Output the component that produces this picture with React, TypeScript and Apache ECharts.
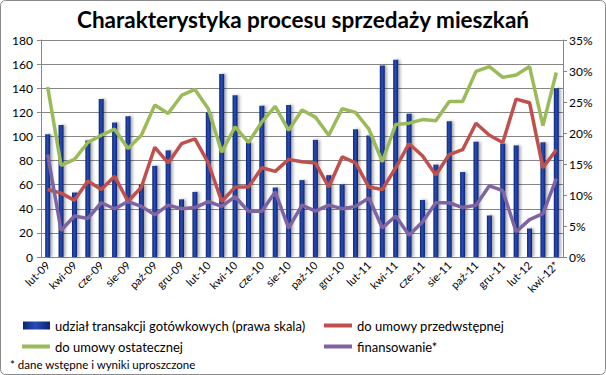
import React, { useEffect, useRef } from "react";
import * as echarts from "echarts";

const categories = [
  "lut-09","mar-09","kwi-09","maj-09","cze-09","lip-09","sie-09","wrz-09","paź-09","lis-09","gru-09",
  "sty-10","lut-10","mar-10","kwi-10","maj-10","cze-10","lip-10","sie-10","wrz-10","paź-10","lis-10","gru-10",
  "sty-11","lut-11","mar-11","kwi-11","maj-11","cze-11","lip-11","sie-11","wrz-11","paź-11","lis-11","gru-11",
  "sty-12","lut-12","mar-12","kwi-12*",
];

// udział transakcji gotówkowych (%), right axis
const cashShare = [
  19.8, 21.3, 10.4, 18.8, 25.5, 21.7, 22.7, 11.7, 14.7, 17.2, 9.3,
  10.5, 23.3, 29.5, 26.1, 18.5, 24.4, 11.2, 24.5, 12.4, 18.9, 13.2, 11.7,
  20.6, 19.6, 30.9, 31.8, 23.1, 9.2, 14.9, 21.9, 13.7, 18.6, 6.7, 18.3,
  18.0, 4.6, 18.5, 27.2,
];

// do umowy przedwstępnej
const preliminary = [
  56, 53, 47, 63, 56, 67, 46, 58, 91, 78, 94,
  98, 78, 46, 58, 58, 74, 71, 81, 79, 78, 58, 83,
  78, 58, 56, 74, 94, 84, 68, 85, 89, 111, 101, 95,
  131, 128, 74, 89,
];

// do umowy ostatecznej
const final = [
  141, 76, 81, 95, 101, 106, 90, 101, 126, 119, 134,
  139, 123, 87, 108, 95, 112, 125, 105, 122, 116, 101, 123,
  120, 106, 79, 110, 111, 114, 113, 129, 129, 154, 158, 149,
  151, 158, 109, 153,
];

// finansowanie*
const financing = [
  85, 22, 34, 32, 45, 40, 46, 42, 35, 43, 40,
  41, 46, 42, 50, 38, 38, 54, 24, 43, 38, 43, 40,
  42, 49, 24, 34, 18, 29, 45, 45, 41, 43, 59, 55,
  21, 31, 36, 65,
];

const leftTicks = { min: 0, max: 180, interval: 20 };
const rightTicks = { min: 0, max: 35, interval: 5 };

const FONT = "Lato, 'Liberation Sans', sans-serif";

export default function App() {
  const ref = useRef<HTMLDivElement>(null);
  useEffect(() => {
    document.body.style.margin = "0";
    const chart = echarts.init(ref.current!, null, { renderer: "svg" });
    const barColor = new echarts.graphic.LinearGradient(0, 0, 1, 0, [
      { offset: 0, color: "#0b2470" },
      { offset: 0.45, color: "#2a4cb8" },
      { offset: 1, color: "#0b2470" },
    ]);
    const axisGray = "#868686";
    const legendText = { fontFamily: FONT, fontSize: 13, color: "#000" };
    const lineLegend = (name: string, left: number, top: number) => ({
      orient: "vertical",
      left,
      top,
      itemWidth: 28,
      itemHeight: 4,
      icon: "rect",
      textStyle: legendText,
      data: [name],
    });
    chart.setOption({
      animation: false,
      textStyle: { fontFamily: FONT },
      title: {
        text: "Charakterystyka procesu sprzedaży mieszkań",
        left: "center",
        top: 3,
        textStyle: { fontFamily: FONT, fontSize: 22.5, fontWeight: "bold", color: "#000" },
      },
      graphic: [
        {
          type: "rect",
          shape: { x: 0.5, y: 0.5, width: 605, height: 374, r: 5 },
          style: { fill: "none", stroke: "#8a8a8a", lineWidth: 1 },
          silent: true,
          z: -1,
        },
        {
          type: "text",
          left: 10,
          top: 358,
          style: { text: "* dane wstępne i wyniki uproszczone", fill: "#000", font: `11.5px ${FONT}` },
        },
      ],
      grid: { left: 41, right: 43, top: 40, bottom: 118, containLabel: false },
      legend: [
        {
          orient: "vertical",
          left: 18,
          top: 314,
          itemWidth: 27,
          itemHeight: 8,
          icon: "rect",
          textStyle: legendText,
          data: ["udział transakcji gotówkowych (prawa skala)"],
        },
        lineLegend("do umowy ostatecznej", 17, 335),
        lineLegend("do umowy przedwstępnej", 319, 314),
        lineLegend("finansowanie*", 319, 335),
      ],
      xAxis: {
        type: "category",
        data: categories,
        boundaryGap: true,
        axisLine: { lineStyle: { color: axisGray } },
        axisTick: { interval: 0, length: 5, lineStyle: { color: axisGray } },
        axisLabel: {
          interval: 1,
          rotate: 45,
          color: "#000",
          fontSize: 11,
          fontFamily: FONT,
          margin: 6,
        },
      },
      yAxis: [
        {
          type: "value",
          ...leftTicks,
          axisLine: { show: true, lineStyle: { color: axisGray } },
          axisTick: { show: true, length: 4, lineStyle: { color: axisGray } },
          splitLine: { lineStyle: { color: axisGray } },
          axisLabel: { color: "#000", fontSize: 12, fontFamily: FONT, margin: 8 },
        },
        {
          type: "value",
          ...rightTicks,
          axisLine: { show: true, lineStyle: { color: axisGray } },
          axisTick: { show: true, length: 4, lineStyle: { color: axisGray } },
          splitLine: { show: false },
          axisLabel: { color: "#000", fontSize: 12, fontFamily: FONT, margin: 6, formatter: "{value}%" },
        },
      ],
      series: [
        {
          name: "udział transakcji gotówkowych (prawa skala)",
          type: "bar",
          yAxisIndex: 1,
          data: cashShare,
          barWidth: 5,
          itemStyle: {
            color: barColor,
            shadowColor: "rgba(0,0,0,0.35)",
            shadowBlur: 3,
            shadowOffsetX: 2,
          },
        },
        {
          name: "do umowy przedwstępnej",
          type: "line",
          data: preliminary,
          symbol: "none",
          lineStyle: { color: "#c0504d", width: 3.5 },
          itemStyle: { color: "#c0504d" },
        },
        {
          name: "do umowy ostatecznej",
          type: "line",
          data: final,
          symbol: "none",
          lineStyle: { color: "#9bbb59", width: 3.5 },
          itemStyle: { color: "#9bbb59" },
        },
        {
          name: "finansowanie*",
          type: "line",
          data: financing,
          symbol: "none",
          lineStyle: { color: "#8064a2", width: 3.5 },
          itemStyle: { color: "#8064a2" },
        },
      ],
    });
    return () => chart.dispose();
  }, []);
  return <div ref={ref} style={{ width: 606, height: 375 }} />;
}
